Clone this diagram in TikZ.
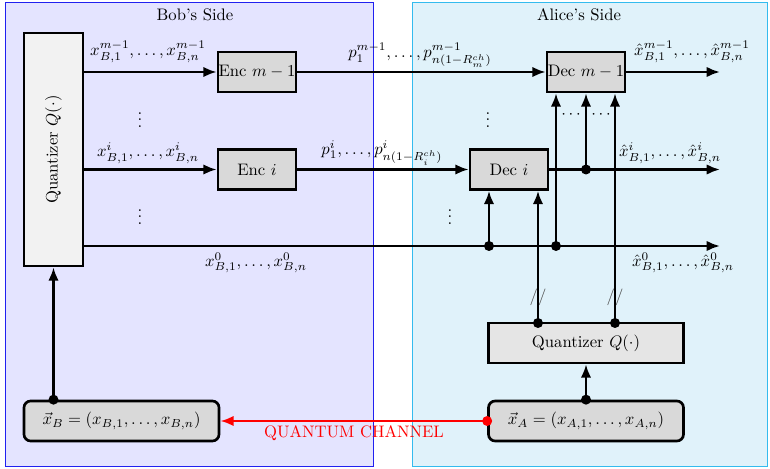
\documentclass[tikz,border=0pt]{standalone}
\usepackage{tikz}
\usetikzlibrary{arrows.meta,positioning,calc}
\definecolor{bobFill}{HTML}{E4E4FF}
\definecolor{bobLine}{HTML}{2020F0}
\definecolor{aliceFill}{HTML}{E0F2FA}
\definecolor{aliceLine}{HTML}{33BBEE}

\begin{document}
\begin{tikzpicture}[x=0.6pt,y=-0.6pt,
      side/.style={line width=0.6pt},
      blk/.style={draw,line width=1.6pt,fill=gray!30,minimum width=46.8pt,minimum height=24pt,inner sep=0pt},
      quant/.style={draw,line width=1.6pt,minimum width=117pt,minimum height=24pt,inner sep=1pt},
      vec/.style={draw,line width=1.6pt,fill=gray!30,rounded corners=4pt,minimum width=117pt,minimum height=24pt,inner sep=1pt},
      sig/.style={line width=1.5pt,-{Latex[length=2.8mm,width=2.2mm]}}]
    \useasboundingbox (0,0) rectangle (770,469);
    % the two sides
    \draw[side,draw=bobLine,fill=bobFill] (5,3) rectangle (373,466);
    \draw[side,draw=aliceLine,fill=aliceFill] (412,3) rectangle (767,466);
    \node (bob) at (195,15) {Bob's Side};
    \node (alice) at (579,15) {Alice's Side};
    % blocks
    \node[quant,fill=gray!10,minimum width=35.4pt,minimum height=139.8pt] (qB) at (53.5,149.5) {\rotatebox{90}{Quantizer $Q(\cdot)$}};
    \node[blk] (encM) at (257,72) {Enc $m-1$};
    \node[blk] (encI) at (257,169.5) {Enc $i$};
    \node[blk] (decM) at (586,72) {Dec $m-1$};
    \node[blk] (decI) at (509,169.5) {Dec $i$};
    \node[quant,fill=gray!20] (qA) at (586,343) {Quantizer $Q(\cdot)$};
    \node[vec] (xA) at (586,421) {$\vec{x}_A=(x_{A,1},\ldots,x_{A,n})$};
    \node[vec] (xB) at (121.5,421) {$\vec{x}_B=(x_{B,1},\ldots,x_{B,n})$};
    % free ends and junctions
    \coordinate (outM) at (720,72);
    \coordinate (outI) at (720,169.5);
    \coordinate (out0) at (720,246);
    \coordinate (j0a) at (489,246);
    \coordinate (j0b) at (556,246);
    \coordinate (jI) at (586,169.5);
    \coordinate (qa1) at (538,323);
    \coordinate (qa2) at (615,323);
    \coordinate (jB) at (qB.south |- xB.north);
    % horizontal signals
    \draw[sig] (qB.east |- encM) -- (encM);
    \draw[sig] (qB.east |- encI) -- (encI);
    \draw[sig] (qB.east |- out0) -- (out0);
    \foreach \a/\b in {encM/decM,encI/decI,decM/outM,decI/outI}
      \draw[sig] (\a) -- (\b);
    % vertical signals
    \draw[sig] (j0a) -- (j0a |- decI.south);
    \draw[sig] (qa1) -- (qa1 |- decI.south);
    \draw[sig] (j0b) -- (j0b |- decM.south);
    \draw[sig] (jI) -- (jI |- decM.south);
    \draw[sig] (qa2) -- (qa2 |- decM.south);
    \draw[sig] (xA.north) -- (qA.south);
    \draw[sig] (jB) -- (qB.south);
    \foreach \c in {j0a,j0b,jI,qa1,qa2,xA.north,jB}
      \fill (\c) circle[radius=3pt];
    % quantum channel
    \draw[line width=1.5pt,red,-{Latex[length=2.8mm,width=2.2mm]}] (xA.west) -- (xB.east);
    \fill[red] (xA.west) circle[radius=3pt];
    \node[red] (qc) at (354,433) {QUANTUM CHANNEL};
    % labels
    \node (lxM) at (148,52) {$x^{m-1}_{B,1},\ldots,x^{m-1}_{B,n}$};
    \node (lxI) at (148,153) {$x^{i}_{B,1},\ldots,x^{i}_{B,n}$};
    \node (lx0) at (256,263) {$x^{0}_{B,1},\ldots,x^{0}_{B,n}$};
    \node (lpM) at (420,55) {$p^{m-1}_1,\ldots,p^{m-1}_{n(1-R^{ch}_m)}$};
    \node (lpI) at (382,153) {$p^{i}_1,\ldots,p^{i}_{n(1-R^{ch}_i)}$};
    \node (lhM) at (692,52) {$\hat{x}^{m-1}_{B,1},\ldots,\hat{x}^{m-1}_{B,n}$};
    \node (lhI) at (670,153) {$\hat{x}^{i}_{B,1},\ldots,\hat{x}^{i}_{B,n}$};
    \node (lh0) at (683,263) {$\hat{x}^{0}_{B,1},\ldots,\hat{x}^{0}_{B,n}$};
    % dots and bus marks
    \node (vd1) at (140,115) {$\vdots$};
    \node (vd2) at (140,212) {$\vdots$};
    \node (vd3) at (488,115) {$\vdots$};
    \node (vd4) at (450,212) {$\vdots$};
    \node (hd1) at (571,115) {$\cdots$};
    \node (hd2) at (601,115) {$\cdots$};
    \node[black!70] (bus1) at (538,297) {//};
    \node[black!70] (bus2) at (615,297) {//};
  \end{tikzpicture}
\end{document}
